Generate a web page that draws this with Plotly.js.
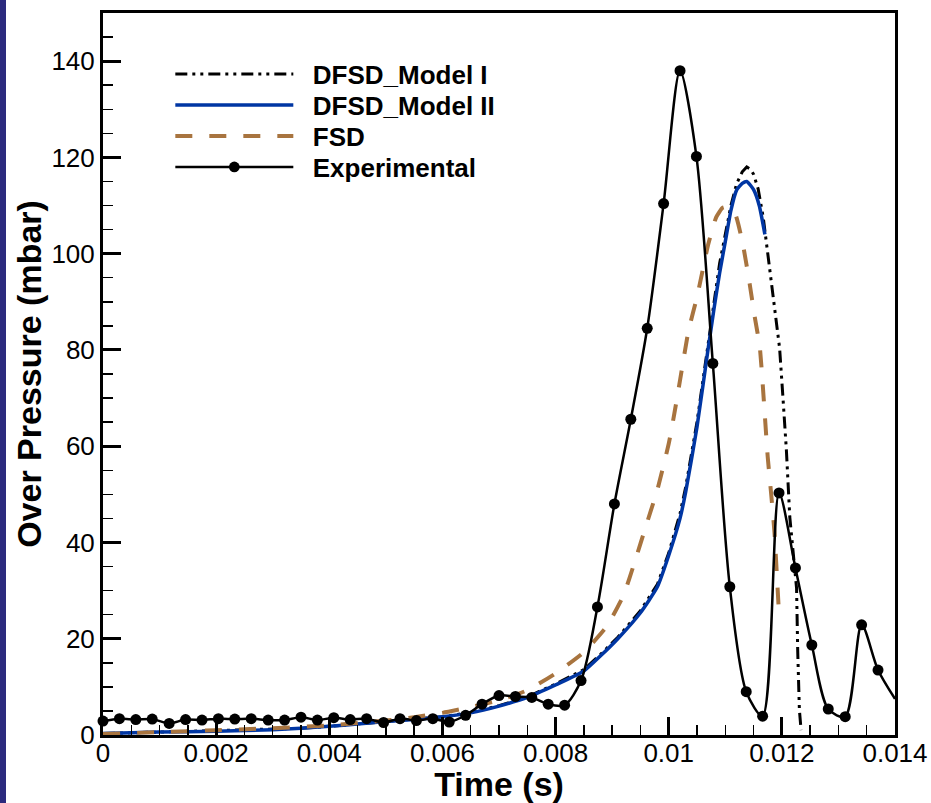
<!DOCTYPE html>
<html>
<head>
<meta charset="utf-8">
<script src="https://cdn.plot.ly/plotly-3.0.1.min.js"></script>
<style>
  html, body { margin: 0; padding: 0; background: #ffffff; }
  #wrap { position: relative; width: 931px; height: 803px; }
  #chart { position: absolute; left: 0; top: 0; width: 931px; height: 803px; }
  #stripe { position: absolute; left: 0; top: 0; width: 6px; height: 803px; background: #2b2a7e; z-index: 5; }
</style>
</head>
<body>
<div id="wrap"><div id="chart"></div><div id="stripe"></div></div>
<script>
// ---- Data ----
const modelITime = [0, 0.001, 0.002, 0.003, 0.0035, 0.004, 0.0045, 0.005, 0.0055, 0.006, 0.0065, 0.007, 0.0075, 0.008, 0.0085, 0.0088, 0.0091, 0.0095, 0.0098, 0.01, 0.0102, 0.0103, 0.0105, 0.0107, 0.0109, 0.011, 0.0111, 0.0112, 0.0113, 0.01138, 0.01145, 0.0115, 0.01158, 0.01167, 0.01178, 0.01187, 0.01196, 0.01202, 0.01208, 0.01214, 0.0122, 0.01226, 0.01228, 0.01231, 0.01234];
const modelIPressure = [0.3, 0.6, 0.8, 1.1, 1.4, 1.8, 2.3, 2.8, 3.2, 3.8, 4.7, 6.1, 7.9, 10.6, 13.6, 16.8, 20.3, 25.8, 31.3, 37.8, 46, 51.5, 65, 82, 98, 104, 110, 114.5, 117, 118, 117.5, 116.5, 113.5, 107.6, 97.2, 88.2, 80.4, 70, 59.2, 45.3, 37, 30.5, 17.6, 5.2, 1.0];

const modelIITime = [0, 0.001, 0.002, 0.003, 0.0035, 0.004, 0.0045, 0.005, 0.0055, 0.006, 0.0065, 0.007, 0.0075, 0.008, 0.0085, 0.0088, 0.0091, 0.0095, 0.0098, 0.01, 0.0102, 0.0103, 0.0105, 0.0107, 0.0108, 0.0109, 0.011, 0.0111, 0.0112, 0.0113, 0.01138, 0.0115, 0.0116, 0.0117];
const modelIIPressure = [0.3, 0.6, 0.8, 1.1, 1.4, 1.8, 2.3, 2.8, 3.2, 3.8, 4.6, 6.0, 7.8, 10.4, 13.3, 16.5, 20.0, 25.4, 30.8, 37.3, 45, 50.5, 64, 80.5, 88.5, 96, 102.5, 109, 113.2, 114.6, 115, 113.3, 110, 104];

const fsdTime = [0, 0.001, 0.002, 0.003, 0.004, 0.005, 0.0055, 0.006, 0.0065, 0.007, 0.0075, 0.008, 0.0085, 0.0089, 0.0092, 0.0094, 0.0096, 0.0098, 0.01, 0.0101, 0.0102, 0.01035, 0.0105, 0.0107, 0.01084, 0.01095, 0.01102, 0.01117, 0.01131, 0.01143, 0.01152, 0.01161, 0.01175, 0.01181, 0.01187, 0.01191, 0.01195];
const fsdPressure = [0.2, 0.6, 1.0, 1.4, 2.0, 3.0, 3.7, 4.6, 5.8, 7.2, 9.3, 12.8, 17.2, 22.5, 29, 36, 43.5, 51, 60.5, 66.8, 73.7, 84, 91, 102, 107.6, 109.5, 109.7, 108.4, 102, 93.8, 86.9, 80.6, 57.8, 50.2, 42, 33.6, 25];

const expTime = [0.00000, 0.00029, 0.00058, 0.00087, 0.00117, 0.00146, 0.00175, 0.00204, 0.00233, 0.00262, 0.00292, 0.00321, 0.00350, 0.00379, 0.00408, 0.00437, 0.00466, 0.00496, 0.00525, 0.00554, 0.00583, 0.00612, 0.00641, 0.00670, 0.00700, 0.00729, 0.00758, 0.00787, 0.00816, 0.00845, 0.00874, 0.00904, 0.00933, 0.00962, 0.00991, 0.01020, 0.01049, 0.01078, 0.01108, 0.01137, 0.01166, 0.01195, 0.01224, 0.01253, 0.01282, 0.01312, 0.01341, 0.01370, 0.01400];
const expPressure = [2.9, 3.4, 3.2, 3.3, 2.4, 3.2, 3.1, 3.4, 3.3, 3.4, 3.1, 3.1, 3.7, 3.1, 3.6, 3.2, 3.4, 2.6, 3.4, 3.0, 3.4, 2.7, 4.1, 6.4, 8.2, 8.0, 7.8, 6.4, 6.2, 11.3, 26.6, 48.0, 65.6, 84.5, 110.4, 138.0, 120.2, 77.2, 30.8, 9.0, 3.9, 50.3, 34.7, 18.7, 5.4, 3.8, 22.9, 13.5, 7.5];

const seriesNames = ['DFSD_Model I', 'DFSD_Model II', 'FSD', 'Experimental'];
const xTickVals = [0, 0.002, 0.004, 0.006, 0.008, 0.01, 0.012, 0.014];
const xTickText = ['0', '0.002', '0.004', '0.006', '0.008', '0.01', '0.012', '0.014'];
const yTickVals = [0, 20, 40, 60, 80, 100, 120, 140];
const yTickText = ['0', '20', '40', '60', '80', '100', '120', '140'];
const xTitle = 'Time (s)';
const yTitle = 'Over Pressure (mbar)';

// marker on every measured sample except the final end-of-window point
const expMarkerSize = expTime.map((t, i) => (i === expTime.length - 1 ? 0 : 11));

const FONT = 'Liberation Sans, Arial, Helvetica, sans-serif';
const NB = '\u00a0';

const traces = [
  {
    x: modelITime, y: modelIPressure, name: NB + NB + seriesNames[0], type: 'scatter', mode: 'lines',
    line: { color: '#000000', width: 3, dash: '12px,5px,3px,5px,3px,5px' }
  },
  {
    x: modelIITime, y: modelIIPressure, name: NB + NB + seriesNames[1], type: 'scatter', mode: 'lines',
    line: { color: '#0036a3', width: 3.5, shape: 'spline', smoothing: 0.5 }
  },
  {
    x: fsdTime, y: fsdPressure, name: NB + NB + seriesNames[2], type: 'scatter', mode: 'lines',
    line: { color: '#a8743f', width: 4, dash: '17px,17px', shape: 'spline', smoothing: 0.5 }
  },
  {
    x: expTime, y: expPressure, name: NB + NB + seriesNames[3], type: 'scatter', mode: 'lines+markers',
    line: { color: '#000000', width: 2.5, shape: 'spline', smoothing: 0.8 },
    marker: { color: '#000000', size: expMarkerSize, opacity: 1, symbol: 'circle', line: { width: 0 } },
    cliponaxis: false
  }
];

const layout = {
  width: 931, height: 803,
  margin: { l: 103, r: 36, t: 13, b: 68, pad: 0 },
  paper_bgcolor: '#ffffff', plot_bgcolor: '#ffffff',
  font: { family: FONT, color: '#000000' },
  showlegend: true,
  legend: {
    x: 0.085, y: 0.948, xanchor: 'left', yanchor: 'top',
    bgcolor: 'rgba(0,0,0,0)', borderwidth: 0,
    font: { family: FONT, size: 26, weight: 700, color: '#000000' },
    itemwidth: 118, tracegroupgap: 0
  },
  xaxis: {
    range: [0, 0.014], tickmode: 'array', tickvals: xTickVals, ticktext: xTickText,
    ticks: 'inside', ticklen: 18, tickwidth: 3, tickcolor: '#000000',
    ticklabelstandoff: -7,
    showline: true, linewidth: 3, linecolor: '#000000', mirror: true,
    showgrid: false, zeroline: false,
    tickfont: { family: FONT, size: 26, color: '#000000' },
    minor: { dtick: 0.0005, tick0: 0, ticks: 'inside', ticklen: 10, tickwidth: 1.5, tickcolor: '#000000', showgrid: false },
    title: { text: xTitle, font: { family: FONT, size: 34, weight: 700, color: '#000000' }, standoff: 2 },
    automargin: false
  },
  yaxis: {
    range: [0, 150], tickmode: 'array', tickvals: yTickVals, ticktext: yTickText,
    ticks: 'inside', ticklen: 18, tickwidth: 3, tickcolor: '#000000',
    showline: true, linewidth: 3, linecolor: '#000000', mirror: true,
    showgrid: false, zeroline: false,
    tickfont: { family: FONT, size: 26, color: '#000000' },
    minor: { dtick: 5, tick0: 0, ticks: 'inside', ticklen: 10, tickwidth: 1.5, tickcolor: '#000000', showgrid: false },
    title: { text: yTitle + NB + NB + NB + NB, font: { family: FONT, size: 34, weight: 700, color: '#000000' }, standoff: 0 },
    automargin: false
  }
};

Plotly.newPlot('chart', traces, layout, { displayModeBar: false, staticPlot: true }).then(function (gd) {
  // tighten legend row spacing to match the reference (31 px per row)
  const items = gd.querySelectorAll('.legend .traces');
  if (!items.length) return;
  const parse = (g) => {
    const m = /translate\(\s*([-\d.]+)[ ,]+([-\d.]+)\s*\)/.exec(g.getAttribute('transform') || '');
    return m ? [parseFloat(m[1]), parseFloat(m[2])] : [0, 0];
  };
  const first = parse(items[0]);
  items.forEach(function (g, i) {
    const p = parse(g);
    g.setAttribute('transform', 'translate(' + p[0] + ',' + (first[1] + i * 31) + ')');
  });
});
</script>
</body>
</html>
